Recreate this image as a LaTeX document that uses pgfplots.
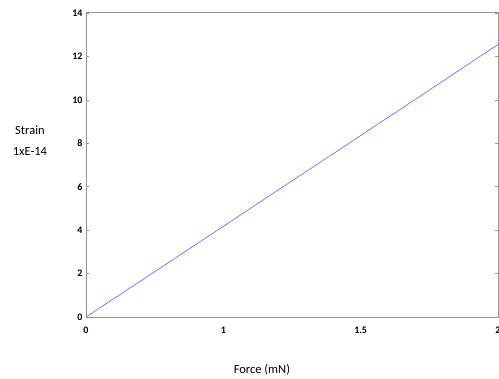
\documentclass[border=0pt]{standalone}
\usepackage{pgfplots}
\pgfplotsset{compat=1.18}
\usepackage{fontspec}
\setmainfont{Carlito}
\begin{document}
\begin{tikzpicture}
\useasboundingbox (0,0) rectangle (499bp,379bp);
\begin{axis}[
  at={(86bp,62bp)}, anchor=south west,
  scale only axis, width=412bp, height=304bp,
  xmin=0, xmax=2, ymin=0, ymax=14,
  xtick={0,0.6667,1.3333,2}, xticklabels={0,1,1.5,2},
  ytick={0,2,...,14},
  /pgf/number format/assume math mode=true,
  tick label style={font=\fontsize{10bp}{12bp}\selectfont\bfseries, color=black},
  x tick label style={yshift=-6bp},
  xtick style={draw=none},
  ytick style={color=gray!80, line width=0.6pt},
  major tick length=3bp,
  tick align=inside,
  axis line style={draw=gray!85, line width=1pt},
  clip=false,
]
\addplot[color=blue!70!white, line width=0.5pt] coordinates {(0,0) (0.5,3.13) (1,6.27) (1.5,9.40) (2,12.55)};
\node[font=\fontsize{12.5bp}{21bp}\selectfont, align=center] at (rel axis cs:-0.136,0.58) {Strain\\1xE-14};
\node[font=\fontsize{12.5bp}{15bp}\selectfont] at (rel axis cs:0.427,-0.174) {Force (mN)};
\end{axis}
\end{tikzpicture}
\end{document}
